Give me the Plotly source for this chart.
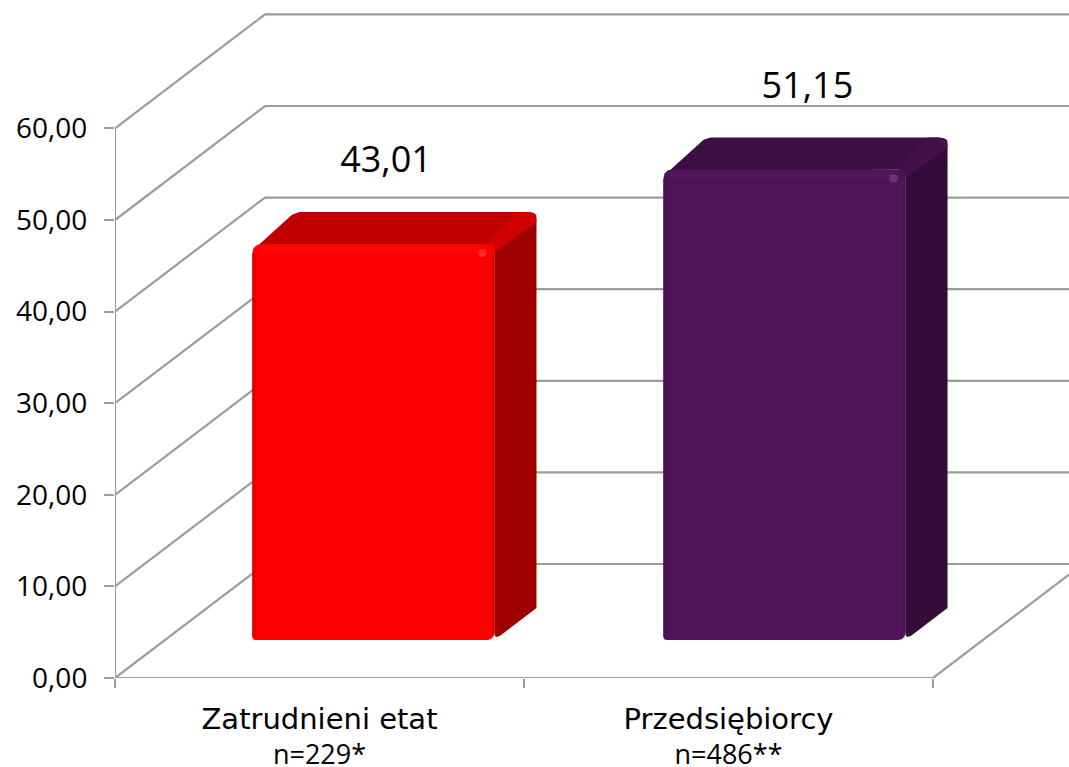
import plotly.graph_objects as go

# ---- data ----
categories = ["Zatrudnieni etat", "Przedsiębiorcy"]
sample_sizes = ["n=229*", "n=486**"]
values = [43.01, 51.15]
y_ticks = [0, 10, 20, 30, 40, 50, 60]

# ---- chart geometry (pixels per unit & oblique projection) ----
W, H = 1069, 767
LEFT, BASE_Y = 115, 678
PX_X, PX_Y = 409.0, 9.16
DEPTH_X, DEPTH_Y = 150 / PX_X, 114 / PX_Y
BAR_W = 242 / PX_X
BAR_SHIFTS = [0.0095, 0.0145]
TOP_PAD = 2 / PX_Y
D0, D1 = 38 / 114, 38 / 114 + 32 / 114
LABEL_POS = [0.6626, 1.693]
LABEL_RISE = 13.2
GRID = "#9c9c9c"
FONT = "Open Sans"

STYLES = [
    dict(front="#ff0000", top="#c00000", side="#a00000", ridge="#d00000",
         edge="#c40000", band="#ff0808", rim="#f00000", spot="#ff2a2a"),
    dict(front="#4e1458", top="#3c0e44", side="#320d38", ridge="#441249",
         edge="#43104b", band="#561a60", rim="#571b63", spot="#6d3479"),
]


def proj(x, y, d=0.0, ox=0.0, oy=0.0):
    """Category/value coordinates at depth d, with a pixel nudge (ox right, oy up)."""
    return x + d * DEPTH_X + ox / PX_X, y + d * DEPTH_Y + oy / PX_Y


def rounded(points, radii):
    """Polygon -> path with quadratic rounded corners (radii in pixels)."""
    xs, ys = [], []
    n = len(points)
    for i, (p, r) in enumerate(zip(points, radii)):
        a, b = points[i - 1], points[(i + 1) % n]
        if r == 0:
            xs.append(p[0]); ys.append(p[1])
            continue
        def toward(q):
            dx, dy = (q[0] - p[0]) * PX_X, (q[1] - p[1]) * PX_Y
            L = (dx * dx + dy * dy) ** 0.5
            t = min(r / L, 0.5)
            return p[0] + (q[0] - p[0]) * t, p[1] + (q[1] - p[1]) * t
        s, e = toward(a), toward(b)
        for k in range(9):
            t = k / 8
            xs.append((1 - t) ** 2 * s[0] + 2 * t * (1 - t) * p[0] + t * t * e[0])
            ys.append((1 - t) ** 2 * s[1] + 2 * t * (1 - t) * p[1] + t * t * e[1])
    return xs + xs[:1], ys + ys[:1]


def mix(c1, c2, t):
    a = [int(c1[i:i + 2], 16) for i in (1, 3, 5)]
    b = [int(c2[i:i + 2], 16) for i in (1, 3, 5)]
    return "#%02x%02x%02x" % tuple(round(u + (v - u) * t) for u, v in zip(a, b))


fig = go.Figure()


def poly(points, color, radii=None):
    xs, ys = rounded(points, radii or [0] * len(points))
    fig.add_trace(go.Scatter(x=xs, y=ys, mode="lines", fill="toself", fillcolor=color,
                             line=dict(width=0, color=color), hoverinfo="skip",
                             showlegend=False))


def line(xs, ys):
    fig.add_trace(go.Scatter(x=xs, y=ys, mode="lines", line=dict(color=GRID, width=2.2),
                             hoverinfo="skip", showlegend=False))


# ---- walls and floor ----
x_end = len(categories)
for t in y_ticks:
    bx, by = proj(0, t, 1)
    line([0, bx, 3], [t, by, by])
top_t = y_ticks[-1]
line([0, 0], [0, top_t])
line([0, x_end], [0, 0])
ex, ey = proj(x_end, 0, 1)
line([x_end, ex], [0, ey])

# ---- bars ----
for i, (v, st) in enumerate(zip(values, STYLES)):
    c = i + 0.5 + BAR_SHIFTS[i]
    x0, x1 = c - BAR_W / 2, c + BAR_W / 2
    vt = v + TOP_PAD
    # top face
    poly([proj(x0, vt, D0, 4, -3), proj(x0, vt, D1), proj(x1, vt, D1), proj(x1, vt, D0)],
         st["top"], [0, 8, 9, 0])
    # side face
    poly([proj(x1, 0, D0), proj(x1, vt, D0), proj(x1, vt, D1), proj(x1, 0, D1)],
         st["side"], [8, 0, 9, 0])
    # ridge between top and side
    poly([proj(x1, vt, D0, -7, 0), proj(x1, vt, D1, -20, 0), proj(x1, vt, D1),
          proj(x1, vt, D1, 0, -10), proj(x1, vt, D0, 0, -9)],
         st["ridge"], [0, 0, 9, 0, 0])
    # front face
    poly([proj(x0, 0, D0), proj(x0, vt, D0), proj(x1, vt, D0), proj(x1, 0, D0)],
         st["front"], [3, 10, 6, 8])
    # top band of the bevel (soft gradient)
    for k in range(12):
        poly([proj(x0, vt, D0, 7, -1 - k), proj(x0, vt, D0, 7, -2 - k),
              proj(x1, vt, D0, -14, -2 - k), proj(x1, vt, D0, -14, -1 - k)],
             mix(st["front"], st["band"], 1 - abs(k - 5) / 6))
    # left bevel gradient
    for k in range(6):
        poly([proj(x0, 0, D0, k, 3), proj(x0, vt, D0, k, -9), proj(x0, vt, D0, k + 1, -9),
              proj(x0, 0, D0, k + 1, 3)], mix(st["edge"], st["front"], k / 5))
    # right bevel gradient
    for k in range(12):
        poly([proj(x1, 0, D0, -k - 1, 6), proj(x1, vt, D0, -k - 1, -10),
              proj(x1, vt, D0, -k, -10), proj(x1, 0, D0, -k, 6)],
             mix(st["rim"], st["front"], k / 11) if k > 1 else mix(st["side"], st["rim"], 0.6))
    # little highlight at the front top-right corner
    poly([proj(x1, vt, D0, -16, -5), proj(x1, vt, D0, -8, -5), proj(x1, vt, D0, -8, -13),
          proj(x1, vt, D0, -16, -13)], st["spot"], [3, 3, 3, 3])

# ---- value labels ----
fig.add_trace(go.Scatter(
    x=LABEL_POS, y=[v + LABEL_RISE for v in values], mode="text",
    text=[f"{v:.2f}".replace(".", ",") for v in values],
    textposition="middle center", textfont=dict(family=FONT, size=36, color="#000000"),
    hoverinfo="skip", showlegend=False))

tick_text = [
    f'<span style="font-family:\'DejaVu Sans\';font-size:29px">{c}</span><br>{n}'
    for c, n in zip(categories, sample_sizes)
]

fig.update_layout(
    width=W, height=H, autosize=False,
    margin=dict(l=LEFT, r=0, t=0, b=H - BASE_Y, pad=0, autoexpand=False),
    paper_bgcolor="#ffffff", plot_bgcolor="#ffffff",
    separators=", ", showlegend=False,
    font=dict(family=FONT, size=28, color="#000000"),
    xaxis=dict(range=[0, (W - LEFT) / PX_X], tickmode="array", automargin=False,
               tickvals=[i + 0.5 for i in range(len(categories))], ticktext=tick_text,
               tickfont=dict(family=FONT, size=27),
               showgrid=False, zeroline=False, showline=False, ticks="", ticklen=0,
               ticklabelstandoff=23,
               minor=dict(tickmode="array", tickvals=list(range(len(categories) + 1)),
                          ticks="outside", ticklen=9, tickwidth=2, tickcolor=GRID,
                          showgrid=False)),
    yaxis=dict(range=[0, BASE_Y / PX_Y], tickmode="array", tickvals=y_ticks, automargin=False,
               tickformat=".2f", showgrid=False, zeroline=False, showline=False,
               ticks="outside", ticklen=10, tickwidth=2, tickcolor=GRID,
               ticklabelstandoff=11),
)

fig.write_html("out.html", config={"displayModeBar": False},
               post_script="document.body.style.margin='0';")
